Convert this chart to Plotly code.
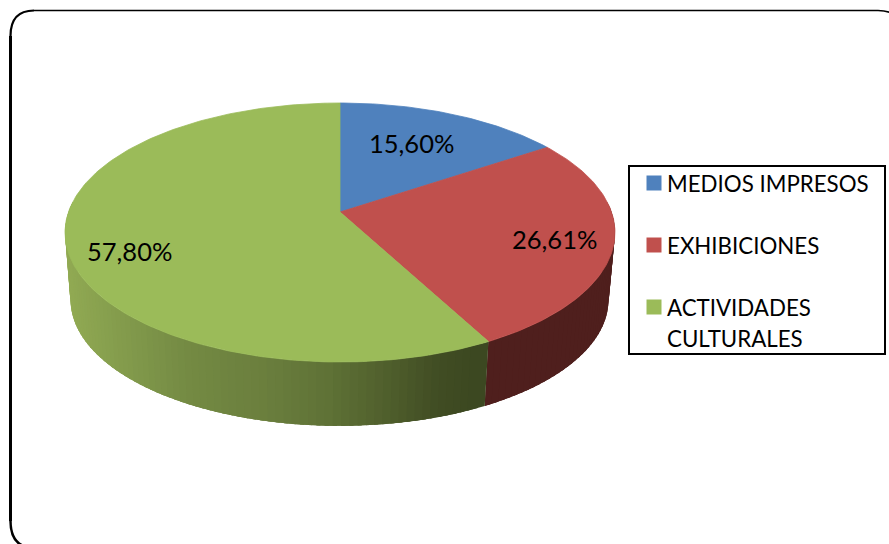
import math
import plotly.graph_objects as go

categories = ["MEDIOS IMPRESOS", "EXHIBICIONES", "ACTIVIDADES CULTURALES"]
values = [15.60, 26.61, 57.80]
top_colors = ["#4F81BD", "#C0504D", "#9BBB59"]

W, H = 889, 544
FONT = "Lato"
K = 0.1583
TOP = dict(cx=340, cy=212, a=271.5, b=126.25)
BOT = dict(cx=339.5, cy=280, a=265.6, b=122.8)


def project(deg, g, r=1.0):
    t = math.radians(deg)
    u, v = r * math.sin(t), r * math.cos(t)
    d = 1 + K * v
    return g["cx"] + g["a"] * u / d, g["cy"] - g["b"] * v / d


def lerp_color(x):
    stops = [(65, (0x93, 0xAC, 0x54)), (150, (0x7F, 0x97, 0x4A)), (200, (0x74, 0x8A, 0x43)),
             (280, (0x6A, 0x7E, 0x3D)), (340, (0x5F, 0x72, 0x36)), (400, (0x4F, 0x5E, 0x2C)),
             (450, (0x40, 0x4C, 0x23)), (490, (0x3B, 0x47, 0x20))]
    if x <= stops[0][0]:
        return "rgb(%d,%d,%d)" % stops[0][1]
    for (x0, c0), (x1, c1) in zip(stops, stops[1:]):
        if x <= x1:
            f = (x - x0) / (x1 - x0)
            return "rgb(%d,%d,%d)" % tuple(round(a + (b - a) * f) for a, b in zip(c0, c1))
    return "rgb(%d,%d,%d)" % stops[-1][1]


total = sum(values)
edges = [0]
for val in values:
    edges.append(edges[-1] + val / total * 360)

fig = go.Figure()


def add_poly(xs, ys, color, width=0.0):
    fig.add_trace(go.Scatter(x=xs, y=ys, mode="lines", fill="toself", fillcolor=color,
                             line=dict(color=color, width=width), hoverinfo="skip", showlegend=False))


# side wall: strips overlap the next one so no background shows through the joins
def side(start, end, colorfn):
    n = max(2, int((end - start) / 1.5))
    step = (end - start) / n
    for i in range(n - 1, -1, -1) if start > 180 or end > 200 else range(n):
        a0 = start + step * i
        a1 = min(end, a0 + step * 2.5)
        angs = [a0, (a0 + a1) / 2, a1]
        p = [project(a, TOP) for a in angs] + [project(a, BOT) for a in reversed(angs)]
        mid = (project(a0, BOT)[0] + project(a0 + step, BOT)[0]) / 2
        add_poly([q[0] for q in p] + [p[0][0]], [q[1] for q in p] + [p[0][1]], colorfn(mid))


side(85, edges[2], lambda x: "#4F1F1D")
side(edges[2], 275, lerp_color)

# top faces
for i in range(3):
    n = max(4, int(edges[i + 1] - edges[i]))
    pts = [project(edges[i] + (edges[i + 1] - edges[i]) * j / n, TOP) for j in range(n + 1)]
    xs = [TOP["cx"]] + [p[0] for p in pts] + [TOP["cx"]]
    ys = [TOP["cy"]] + [p[1] for p in pts] + [TOP["cy"]]
    add_poly(xs, ys, top_colors[i], 0.8)

# legend swatches
legend_rows = [183, 245, 307]
for cat, col, yy in zip(categories, top_colors, legend_rows):
    fig.add_trace(go.Scatter(x=[654], y=[yy], mode="markers", name=cat, showlegend=False,
                             marker=dict(symbol="square", size=15, color=col), hoverinfo="name"))

annotations = []
def label(x, y, text, anchor="left", size=22.3):
    annotations.append(dict(x=x, y=y, text=text, xref="x", yref="y", showarrow=False,
                            xanchor=anchor, yanchor="middle",
                            font=dict(family=FONT, size=size, color="black")))


for cat, yy in zip(categories, legend_rows):
    if len(cat) > 15:
        first, second = cat.split(" ")
        label(665, yy, first)
        label(665, yy + 31, second)
    else:
        label(665, yy, cat)

label_pos = [(411, 143), (554, 239), (129, 251)]
for val, (lx, ly) in zip(values, label_pos):
    label(lx, ly, f"{val:.2f}%".replace(".", ","), anchor="center", size=25.5)

shapes = [
    dict(type="path", xref="x", yref="y", line=dict(color="black", width=3),
         path="M 10.5,521 L 10.5,36"),
    dict(type="path", xref="x", yref="y", line=dict(color="black", width=2.2),
         path="M 10.5,36 Q 10.5,10.5 34,10.5"),
    dict(type="path", xref="x", yref="y", line=dict(color="black", width=1.5),
         path="M 34,10.5 L 878,10.5 Q 902,10.5 902,34"),
    dict(type="path", xref="x", yref="y", line=dict(color="black", width=2.5),
         path="M 10.5,521 Q 10.5,548 35,548"),
    dict(type="rect", xref="x", yref="y", x0=629, y0=166, x1=885, y1=354,
         line=dict(color="black", width=2), fillcolor="rgba(0,0,0,0)"),
]

fig.update_layout(
    width=W, height=H, margin=dict(l=0, r=0, t=0, b=0),
    paper_bgcolor="white", plot_bgcolor="white",
    xaxis=dict(range=[0, W], visible=False, fixedrange=True),
    yaxis=dict(range=[H, 0], visible=False, fixedrange=True),
    shapes=shapes, annotations=annotations, showlegend=False,
)

fig.write_html("out.html", config=dict(displayModeBar=False),
               post_script="document.body.style.margin='0';document.documentElement.style.overflow='hidden';")
